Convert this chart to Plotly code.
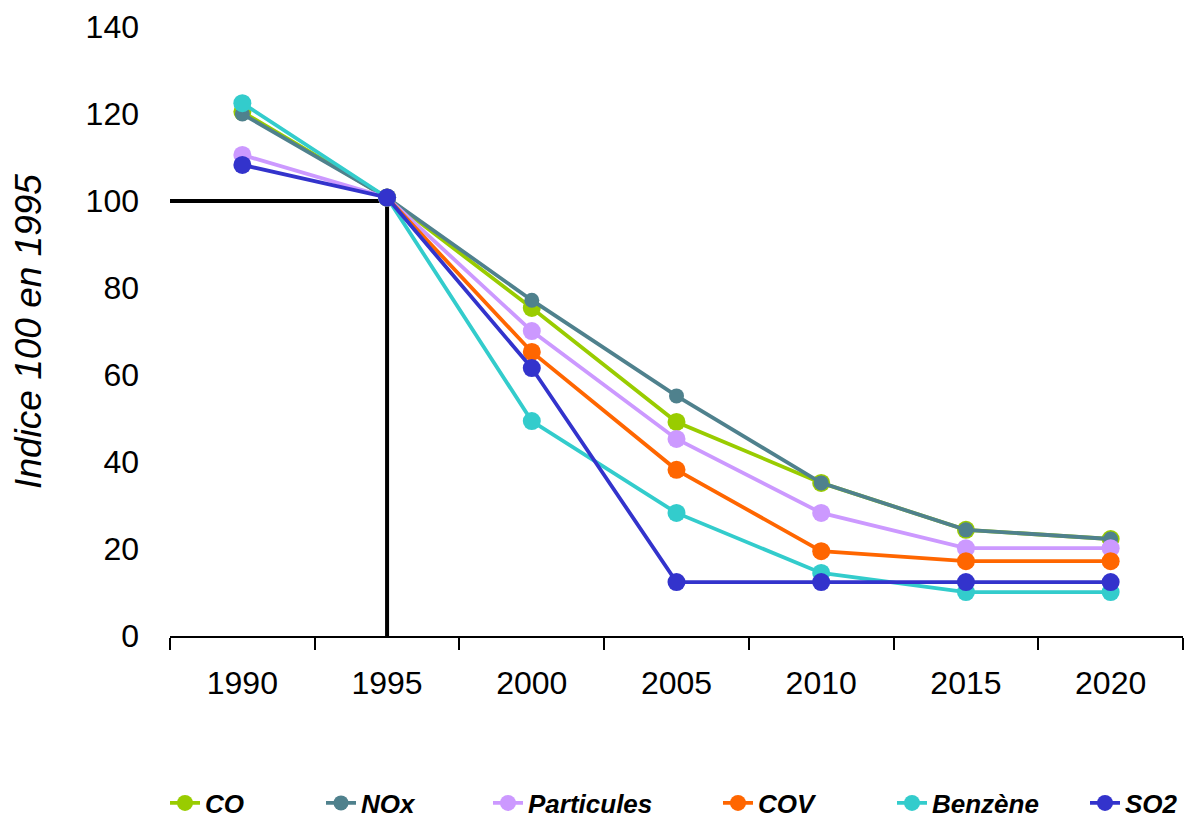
import plotly.graph_objects as go

years = ["1990", "1995", "2000", "2005", "2010", "2015", "2020"]
co = [120.5, 100.8, 75.4, 49.2, 35.2, 24.4, 22.3]
nox = [120.0, 100.8, 77.2, 55.2, 35.2, 24.4, 22.3]
particules = [110.6, 100.8, 70.1, 45.3, 28.3, 20.2, 20.2]
cov = [None, 100.8, 65.3, 38.2, 19.5, 17.2, 17.2]
benzene = [122.5, 100.8, 49.4, 28.3, 14.5, 10.1, 10.1]
so2 = [108.3, 100.8, 61.6, 12.4, 12.4, 12.4, 12.4]

series = [
    ("CO", co, "#99CC00", 18),
    ("NOx", nox, "#4F818D", 15),
    ("Particules", particules, "#CC99FF", 18),
    ("COV", cov, "#FF6600", 18),
    ("Benzène", benzene, "#33CCCC", 18),
    ("SO2", so2, "#3333CC", 18),
]
# left pixel of each legend entry (layout only, figure coords)
legend_left_px = [157, 313, 480, 710, 884, 1077]

FONT = "Liberation Sans, Arial, sans-serif"
W, H = 1194, 813

fig = go.Figure()
for i, (name, vals, color, msize) in enumerate(series):
    lg = "legend" if i == 0 else f"legend{i+1}"
    fig.add_trace(go.Scatter(
        x=years, y=vals, name=name, mode="lines+markers",
        line=dict(color=color, width=3.8),
        marker=dict(color=color, size=msize),
        legend=lg,
    ))

ref_idx = years.index("1995")
fig.add_shape(type="line", xref="x", yref="y", x0=-0.57, x1=ref_idx, y0=100, y1=100,
              line=dict(color="black", width=4), layer="below")
fig.add_shape(type="line", xref="x", yref="y", x0=ref_idx, x1=ref_idx, y0=100, y1=-2.1,
              line=dict(color="black", width=4), layer="below")

legend_font = dict(family=FONT, size=26, weight="bold", style="italic", color="black")
legends = {}
for i, px in enumerate(legend_left_px):
    key = "legend" if i == 0 else f"legend{i+1}"
    legends[key] = dict(
        xref="container", yref="container",
        x=px / W, xanchor="left", y=1 - 795 / H, yanchor="middle",
        orientation="h", font=legend_font, bgcolor="rgba(0,0,0,0)",
        borderwidth=0,
    )

fig.update_layout(
    width=W, height=H,
    margin=dict(l=162, r=19, t=19, b=185),
    paper_bgcolor="white", plot_bgcolor="white",
    font=dict(family=FONT, color="black", size=32),
    showlegend=True,
    xaxis=dict(
        type="category", range=[-0.5, len(years) - 0.5],
        tickson="boundaries", ticks="outside", ticklen=12,
        tickcolor="black", tickwidth=1.8,
        showline=True, linecolor="black", linewidth=1.8,
        showgrid=False, zeroline=False, automargin=False,
        tickfont=dict(size=32), ticklabelstandoff=18,
    ),
    yaxis=dict(
        range=[0, 140], tickvals=[0, 20, 40, 60, 80, 100, 120, 140],
        showgrid=False, zeroline=False, showline=False, ticks="",
        automargin=False,
        tickfont=dict(size=32), ticklabelstandoff=30,
        title=dict(text="Indice 100 en 1995", font=dict(size=37, style="italic"), standoff=42),
    ),
    **legends,
)

fig.write_html("out.html")
